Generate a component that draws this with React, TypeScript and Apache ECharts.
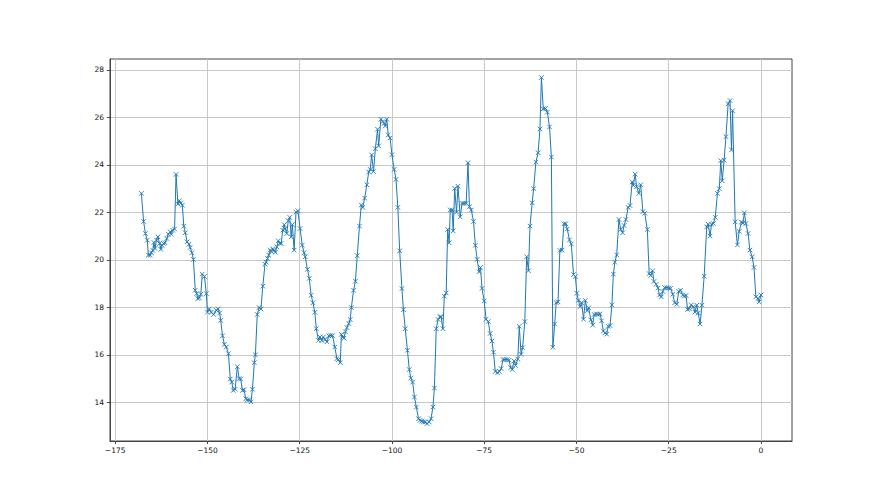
import React, { useEffect, useRef } from "react";
import * as echarts from "echarts";

const xValues: number[] = [
  -167.9, -167.3, -166.8, -166.3, -166.0, -165.5, -165.2, -164.8, -164.5, -164.2,
  -163.8, -163.4, -163.0, -162.6, -162.3, -161.9, -161.5, -161.0, -160.6, -160.1,
  -159.8, -159.4, -158.9, -158.5, -158.0, -157.6, -157.2, -156.8, -156.4, -156.0,
  -155.5, -155.0, -154.7, -154.2, -153.8, -153.3, -152.9, -152.6, -152.2, -151.8,
  -151.4, -150.8, -150.3, -150.0, -149.5, -149.0, -148.3, -147.6, -147.1, -146.7,
  -146.4, -145.9, -145.4, -144.9, -144.3, -143.8, -143.4, -143.0, -142.5, -141.9,
  -141.4, -141.0, -140.5, -140.1, -139.6, -139.2, -138.6, -138.2, -137.8, -137.3,
  -137.0, -136.5, -136.0, -135.5, -135.0, -134.4, -134.1, -133.7, -133.4, -133.0,
  -132.7, -132.3, -131.9, -131.6, -131.2, -130.8, -130.4, -130.0, -129.6, -129.2,
  -128.9, -128.5, -128.1, -127.7, -127.3, -127.0, -126.5, -126.0, -125.5, -124.9,
  -124.3, -123.8, -123.5, -122.9, -122.4, -121.9, -121.4, -120.9, -120.5, -119.9,
  -119.5, -119.0, -118.6, -118.1, -117.6, -117.1, -116.6, -116.1, -115.5, -114.9,
  -114.5, -114.0, -113.7, -113.3, -113.0, -112.6, -112.2, -111.7, -111.3, -111.0,
  -110.4, -109.9, -109.4, -108.8, -108.3, -107.9, -107.4, -106.8, -106.3, -105.9,
  -105.5, -105.0, -104.5, -103.9, -103.6, -103.0, -102.5, -102.1, -101.8, -101.4,
  -101.0, -100.5, -100.0, -99.4, -98.9, -98.4, -97.9, -97.3, -96.9, -96.4,
  -95.8, -95.3, -94.9, -94.4, -93.9, -93.4, -92.8, -92.4, -91.9, -91.5,
  -91.0, -90.5, -89.9, -89.4, -88.9, -88.5, -88.0, -87.5, -87.0, -86.7,
  -86.2, -85.8, -85.3, -84.9, -84.5, -84.2, -83.7, -83.4, -83.0, -82.5,
  -82.1, -81.5, -81.0, -80.5, -79.9, -79.4, -79.0, -78.5, -77.9, -77.4,
  -76.9, -76.4, -76.0, -75.6, -75.0, -74.5, -73.9, -73.4, -72.9, -72.5,
  -72.0, -71.4, -70.9, -70.4, -69.9, -69.4, -68.8, -68.3, -67.8, -67.4,
  -66.9, -66.5, -65.9, -65.5, -65.0, -64.6, -64.0, -63.5, -63.0, -62.6,
  -62.0, -61.6, -61.0, -60.4, -59.9, -59.5, -59.0, -58.4, -57.9, -57.3,
  -56.8, -56.4, -55.9, -55.5, -55.0, -54.5, -53.9, -53.4, -52.9, -52.5,
  -51.9, -51.4, -50.8, -50.3, -49.9, -49.5, -49.0, -48.6, -48.1, -47.6,
  -47.1, -46.7, -46.1, -45.6, -45.2, -44.6, -44.2, -43.6, -43.2, -42.7,
  -42.3, -41.8, -41.4, -40.9, -40.4, -40.0, -39.6, -39.1, -38.5, -38.0,
  -37.5, -37.1, -36.6, -36.0, -35.5, -34.9, -34.6, -34.1, -33.7, -33.1,
  -32.6, -32.0, -31.5, -30.8, -30.3, -29.9, -29.4, -29.0, -28.4, -27.9,
  -27.5, -27.0, -26.6, -26.1, -25.5, -25.0, -24.5, -23.9, -23.4, -22.8,
  -22.3, -21.8, -21.2, -20.8, -20.3, -19.9, -19.4, -18.9, -18.3, -17.9,
  -17.4, -17.0, -16.5, -16.0, -15.4, -14.7, -14.3, -13.8, -13.4, -12.9,
  -12.4, -11.8, -11.3, -10.9, -10.5, -10.0, -9.5, -8.9, -8.4, -8.0,
  -7.7, -7.0, -6.4, -5.9, -5.3, -4.9, -4.5, -4.1, -3.5, -3.0,
  -2.4, -1.9, -1.4, -0.8, -0.5, 0.0,
];

const yValues: number[] = [
  22.8, 21.62, 21.11, 20.83, 20.2, 20.2, 20.3, 20.4, 20.73, 20.48,
  20.83, 20.97, 20.69, 20.44, 20.62, 20.69, 20.72, 20.9, 21.08, 21.18,
  21.08, 21.25, 21.3, 23.6, 22.35, 22.49, 22.4, 22.3, 21.42, 21.14,
  20.76, 20.66, 20.52, 20.3, 20.02, 18.72, 18.58, 18.37, 18.4, 18.55,
  19.4, 19.3, 18.58, 17.8, 17.93, 17.79, 17.7, 17.88, 17.93, 17.76,
  17.45, 16.8, 16.44, 16.33, 16.05, 14.98, 14.85, 14.5, 14.55, 15.5,
  15.0, 14.98, 14.5, 14.53, 14.15, 14.1, 14.1, 14.02, 14.55, 15.67,
  16.0, 17.7, 17.99, 17.93, 18.89, 19.82, 19.9, 20.06, 20.2, 20.41,
  20.35, 20.46, 20.4, 20.32, 20.55, 20.8, 20.7, 20.69, 21.25, 21.48,
  21.3, 21.11, 21.65, 21.79, 20.97, 21.48, 20.41, 22.01, 22.07, 21.32,
  20.62, 20.3, 20.13, 19.6, 19.22, 18.51, 18.19, 17.79, 17.1, 16.61,
  16.75, 16.6, 16.75, 16.65, 16.55, 16.8, 16.81, 16.81, 16.33, 15.84,
  15.8, 15.67, 16.86, 16.75, 16.7, 16.97, 17.15, 17.32, 17.49, 17.99,
  18.72, 19.1, 20.18, 21.42, 22.31, 22.21, 22.6, 23.16, 23.7, 23.81,
  24.42, 23.72, 24.68, 25.5, 24.8, 25.92, 25.82, 25.75, 25.64, 25.92,
  25.26, 25.13, 24.43, 23.81, 23.39, 22.21, 20.38, 18.79, 17.9, 17.1,
  16.19, 15.38, 15.02, 14.85, 14.22, 13.8, 13.31, 13.24, 13.21, 13.17,
  13.17, 13.1, 13.17, 13.31, 13.8, 14.6, 17.1, 17.49, 17.6, 17.6,
  17.1, 18.47, 18.61, 21.28, 20.72, 22.1, 22.1, 21.22, 23.01, 22.01,
  23.1, 21.81, 22.38, 22.38, 22.38, 24.09, 22.24, 22.1, 21.62, 20.61,
  20.02, 19.5, 19.68, 18.8, 18.27, 17.5, 17.4, 16.9, 16.58, 16.11,
  15.3, 15.24, 15.3, 15.42, 15.8, 15.8, 15.8, 15.77, 15.46, 15.38,
  15.74, 15.55, 15.82, 17.2, 16.02, 16.3, 17.4, 20.13, 19.54, 21.42,
  22.4, 23.0, 24.12, 24.51, 25.51, 27.68, 26.36, 26.38, 26.22, 25.6,
  24.33, 16.32, 17.3, 18.2, 18.23, 20.4, 20.41, 21.52, 21.52, 21.3,
  20.84, 20.67, 19.38, 19.3, 18.59, 18.29, 18.03, 18.2, 17.5, 18.29,
  17.86, 17.98, 17.47, 17.25, 17.7, 17.72, 17.7, 17.72, 17.43, 17.0,
  16.92, 16.87, 17.2, 17.23, 18.1, 19.4, 19.9, 20.21, 21.7, 21.28,
  21.14, 21.45, 21.7, 22.21, 22.29, 23.28, 23.14, 23.61, 23.08, 22.8,
  23.16, 22.03, 21.96, 21.28, 19.42, 19.34, 19.54, 19.09, 18.97, 18.81,
  18.52, 18.44, 18.67, 18.83, 18.83, 18.81, 18.8, 18.55, 18.19, 18.13,
  18.67, 18.72, 18.52, 18.47, 18.5, 17.91, 17.94, 18.1, 18.02, 17.8,
  18.09, 17.76, 17.3, 18.09, 19.31, 21.39, 21.5, 21.0, 21.5, 21.53,
  21.79, 22.8, 23.0, 24.18, 23.33, 24.2, 25.19, 26.57, 26.71, 24.63,
  26.28, 21.6, 20.63, 21.2, 21.59, 21.55, 21.98, 21.53, 21.11, 20.41,
  20.13, 19.68, 18.44, 18.37, 18.23, 18.52,
];

const xTicks: number[] = [-175, -150, -125, -100, -75, -50, -25, 0];
const yTicks: number[] = [14, 16, 18, 20, 22, 24, 26, 28];

const fmt = (v: number) => (v < 0 ? "\u2212" + Math.abs(v) : String(v));

export default function App() {
  const ref = useRef<HTMLDivElement>(null);
  useEffect(() => {
    if (!ref.current) return;
    const chart = echarts.init(ref.current, null, { renderer: "svg" });
    const data = xValues.map((x, i) => [x, yValues[i]]);
    const labelStyle = {
      fontFamily: "DejaVu Sans",
      fontSize: 7.5,
      color: "#111",
    };
    chart.setOption({
      animation: false,
      backgroundColor: "#ffffff",
      grid: {
        left: 110,
        right: 88,
        top: 59,
        bottom: 54,
        show: true,
        borderColor: "#444",
        borderWidth: 1,
        backgroundColor: "transparent",
      },
      xAxis: {
        type: "value",
        min: -176.4,
        max: 8.4,
        axisLine: { show: true, onZero: false, lineStyle: { color: "#444", width: 1 } },
        axisTick: {
          show: true,
          length: 3,
          lineStyle: { color: "#444", width: 1 },
          customValues: xTicks,
        },
        axisLabel: {
          ...labelStyle,
          margin: 5,
          customValues: xTicks,
          formatter: (v: number) => fmt(v),
        },
        splitLine: { show: true, lineStyle: { color: "#c8c8c8", width: 1 } },
      },
      yAxis: {
        type: "value",
        min: 12.37,
        max: 28.46,
        axisLine: { show: true, onZero: false, lineStyle: { color: "#444", width: 1 } },
        axisTick: {
          show: true,
          length: 3,
          lineStyle: { color: "#444", width: 1 },
          customValues: yTicks,
        },
        axisLabel: {
          ...labelStyle,
          margin: 6,
          customValues: yTicks,
          formatter: (v: number) => fmt(v),
        },
        splitLine: { show: true, lineStyle: { color: "#c8c8c8", width: 1 } },
      },
      series: [
        {
          type: "line",
          data,
          symbol: "path://M0,0L10,10M10,0L0,10",
          symbolSize: 4.5,
          showSymbol: true,
          lineStyle: { color: "#1f77b4", width: 1 },
          itemStyle: { color: "#1f77b4", borderColor: "#1f77b4", borderWidth: 0.9 },
          emphasis: { disabled: true },
        },
      ],
    });
    return () => chart.dispose();
  }, []);
  return (
    <div
      ref={ref}
      style={{ position: "absolute", left: 0, top: 0, width: 880, height: 495 }}
    />
  );
}
